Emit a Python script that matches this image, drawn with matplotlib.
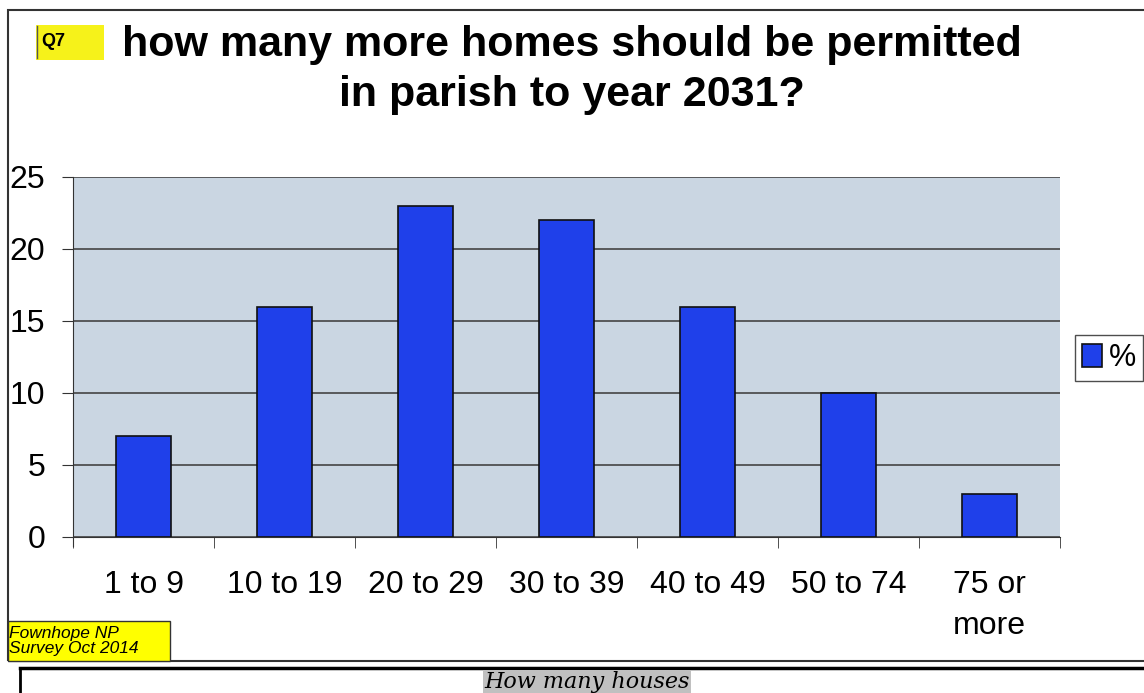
import matplotlib.pyplot as plt
from matplotlib.patches import Rectangle

plt.rcParams['font.family'] = ['Liberation Sans', 'DejaVu Sans']

categories = ['1 to 9', '10 to 19', '20 to 29', '30 to 39', '40 to 49', '50 to 74', '75 or\nmore']
percent = [7, 16, 23, 22, 16, 10, 3]

fig = plt.figure(figsize=(11.44, 6.93), dpi=100)
fig.patch.set_facecolor('white')

# outer frame of the scanned chart
fig.add_artist(Rectangle((8 / 1144, 1 - 661 / 693), 1.0, (661 - 10) / 693,
                         transform=fig.transFigure, fill=False, edgecolor='#333333', lw=1.5))

ax = fig.add_axes([73 / 1144, 1 - 537 / 693, (1060 - 73) / 1144, (537 - 177) / 693])
ax.set_facecolor('#cad6e2')
x = range(len(categories))
ax.bar(x, percent, width=0.39, color='#1f40ea', edgecolor='#101010', lw=1.2, zorder=3, label='%')
ax.set_xlim(-0.5, len(categories) - 0.5)
ax.set_ylim(0, 25)
ax.set_yticks([0, 5, 10, 15, 20, 25])
ax.yaxis.grid(True, color='#444444', lw=1.2, zorder=1)
ax.set_xticks(x)
ax.set_xticklabels(categories, fontsize=23, linespacing=1.45)
ax.set_xticks([i - 0.5 for i in range(len(categories) + 1)], minor=True)
ax.tick_params(axis='x', which='major', length=0, pad=24)
ax.tick_params(axis='x', which='minor', length=8, color='#333333')
ax.tick_params(axis='y', labelsize=23, length=8, color='#333333', pad=12)
for s in ['top', 'right']:
    ax.spines[s].set_visible(False)
ax.spines['left'].set_color('#333333')
ax.spines['bottom'].set_color('#333333')
ax.spines['left'].set_bounds(-0.6, 25)

leg = ax.legend(loc='center left', bbox_to_anchor=(1.015, 0.497), fontsize=22, frameon=True,
                handlelength=0.65, handleheight=0.8, handletextpad=0.2, borderpad=0.25,
                borderaxespad=0, fancybox=False, edgecolor='#222222')

fig.text(572 / 1144, 1 - 70 / 693, 'how many more homes should be permitted\nin parish to year 2031?',
         ha='center', va='center', fontsize=31, fontweight='bold', linespacing=1.3)

# Q7 tag
fig.add_artist(Rectangle((36 / 1144, 1 - 60 / 693), 68 / 1144, 35 / 693,
                         transform=fig.transFigure, facecolor='#f6f21a', edgecolor='none'))
fig.add_artist(plt.Line2D([37 / 1144, 37 / 1144], [1 - 58 / 693, 1 - 26 / 693],
                          transform=fig.transFigure, color='#555555', lw=1))
fig.text(41 / 1144, 1 - 41 / 693, 'Q7', fontsize=13, va='center', fontweight='bold')

# footer tag
fig.add_artist(Rectangle((8 / 1144, 1 - 661 / 693), 162 / 1144, 40 / 693,
                         transform=fig.transFigure, facecolor='#ffff00', edgecolor='#333333', lw=1))
fig.text(9 / 1144, 1 - 641 / 693, 'Fownhope NP\nSurvey Oct 2014', fontsize=12.5,
         fontstyle='italic', va='center', linespacing=1.05)

# caption box below
fig.add_artist(plt.Line2D([20 / 1144, 1], [1 - 668 / 693] * 2, transform=fig.transFigure,
                          color='black', lw=2.5))
fig.add_artist(plt.Line2D([20 / 1144, 20 / 1144], [1 - 668 / 693, 0], transform=fig.transFigure,
                          color='black', lw=2))
fig.text(587 / 1144, 1 - 682 / 693, 'How many houses', fontsize=16, fontstyle='italic',
         family='DejaVu Serif', ha='center', va='center',
         bbox=dict(facecolor='#c0c0c0', edgecolor='none', pad=1))

fig.savefig('out.png', dpi=100)
